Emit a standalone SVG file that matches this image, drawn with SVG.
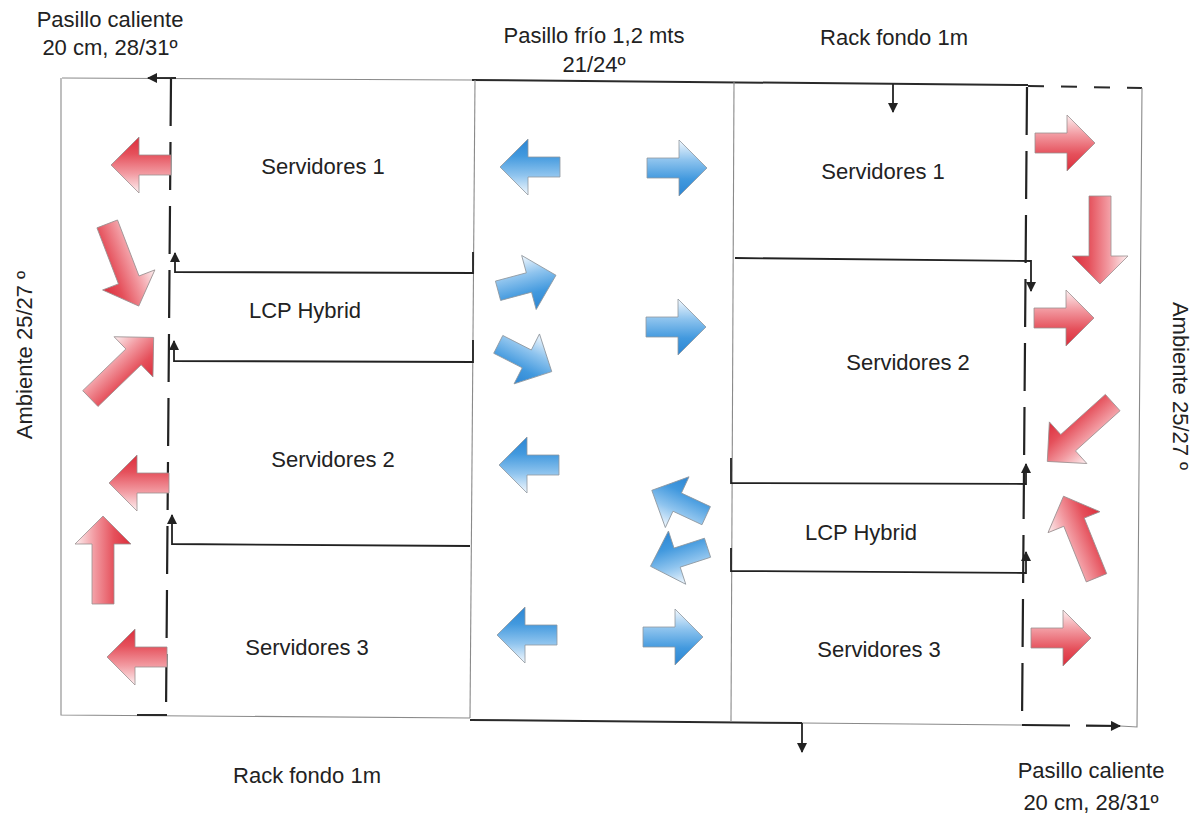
<svg xmlns="http://www.w3.org/2000/svg" width="1203" height="816" viewBox="0 0 1203 816">
<style>
text{font-family:"Liberation Sans",Arial,sans-serif;font-size:22px;fill:#222;text-anchor:middle}
.frame{stroke:#8a8a8a;stroke-width:1.1;fill:none}
.heavy{stroke:#2a2a2a;stroke-width:2;fill:none}
.dash{stroke:#222;stroke-width:2.2;fill:none;stroke-dasharray:48 16}
.conn{stroke:#222;stroke-width:1.8;fill:none}
.red{fill:url(#gRed);stroke:#9a8f90;stroke-width:0.8}
.blue{fill:url(#gBlue);stroke:#8f979e;stroke-width:0.8}
</style>
<defs>
<marker id="ah" viewBox="0 0 10 10" refX="9" refY="5" markerWidth="11" markerHeight="10" markerUnits="userSpaceOnUse" orient="auto">
<path d="M0,0 L10,5 L0,10 Z" fill="#222"/>
</marker>
<linearGradient id="gRed" x1="0" y1="0" x2="0" y2="1">
<stop offset="0" stop-color="#fdf0f1"/>
<stop offset="0.35" stop-color="#f29aa1"/>
<stop offset="0.7" stop-color="#e5505b"/>
<stop offset="1" stop-color="#dc2f3d"/>
</linearGradient>
<linearGradient id="gBlue" x1="0" y1="0" x2="0" y2="1">
<stop offset="0" stop-color="#f4f9fe"/>
<stop offset="0.35" stop-color="#8fc4ee"/>
<stop offset="0.7" stop-color="#4299de"/>
<stop offset="1" stop-color="#2d86d3"/>
</linearGradient>
<path id="aS" d="M-30,-10 H2 V-28 L30,0 L2,28 V10 H-30 Z"/>
<path id="aL" d="M-44,-11 H16 V-28 L44,0 L16,28 V11 H-44 Z"/>
</defs>
<rect width="1203" height="816" fill="#ffffff"/>

<g id="frame">
<path class="frame" d="M62,78 L472,80"/>
<path class="heavy" d="M472,80 L1028,85"/>
<path class="heavy" d="M1028,86 L1142,88" stroke-dasharray="16 17"/>
<path class="frame" d="M61,78 L61,715 L470,718"/>
<path class="heavy" d="M470,720 L802,723"/>
<path class="frame" d="M802,723 L1022,725"/>
<path class="frame" d="M1142,88 L1137,727 L1120,726"/>
</g>

<g id="cold-aisle">
<path class="frame" d="M475,80 L470,718"/>
<path class="frame" d="M734,82 L731,722"/>
<text x="594" y="43">Pasillo frío 1,2 mts</text>
<text x="594" y="72">21/24º</text>
</g>

<g id="hot-aisle-left">
<path class="dash" d="M171,78 L166,715"/>
<path class="heavy" d="M171,78 H176"/>
<path class="heavy" stroke-width="2.8" d="M137,715 H167"/>
<text x="110" y="27">Pasillo caliente</text>
<text x="110" y="55">20 cm, 28/31º</text>
</g>

<g id="hot-aisle-right">
<path class="dash" d="M1027,87 L1022,725"/>
<text x="1091" y="778">Pasillo caliente</text>
<text x="1091" y="810">20 cm, 28/31º</text>
</g>

<g id="rack-left">
<text x="323" y="174">Servidores 1</text>
<text x="305" y="318">LCP Hybrid</text>
<text x="333" y="467">Servidores 2</text>
<text x="307" y="655">Servidores 3</text>
</g>

<g id="rack-right">
<text x="883" y="179">Servidores 1</text>
<text x="908" y="370">Servidores 2</text>
<text x="861" y="540">LCP Hybrid</text>
<text x="879" y="657">Servidores 3</text>
</g>

<g id="labels">
<text x="894" y="45">Rack fondo 1m</text>
<text x="307" y="783">Rack fondo 1m</text>
<text transform="translate(32,355) rotate(-90)">Ambiente 25/27 º</text>
<text transform="translate(1173,386) rotate(90)">Ambiente 25/27 º</text>
</g>

<g id="connectors">
<path class="conn" d="M171,78 H148" marker-end="url(#ah)"/>
<path class="conn" d="M893,84 V112" marker-end="url(#ah)"/>
<path class="conn" d="M802,723 V752" marker-end="url(#ah)"/>
<path class="dash" d="M1022,725 L1120,726" stroke-dasharray="22 16" marker-end="url(#ah)"/>
<path class="conn" d="M473,252 V273 L175,272 V253" marker-end="url(#ah)"/>
<path class="conn" d="M473,340 V362 L174,361 V341" marker-end="url(#ah)"/>
<path class="conn" d="M470,546 L172,544 V515" marker-end="url(#ah)"/>
<path class="conn" d="M735,258 L1031,261 V291" marker-end="url(#ah)"/>
<path class="conn" d="M731,458 V483 L1026,484 V464" marker-end="url(#ah)"/>
<path class="conn" d="M731,548 V571 L1026,573 V552" marker-end="url(#ah)"/>
</g>

<g id="hot-airflow">
<use href="#aS" class="red" transform="translate(141,165) rotate(180)"/>
<use href="#aL" class="red" transform="translate(123,265) rotate(69)"/>
<use href="#aL" class="red" transform="translate(122,368) rotate(-44)"/>
<use href="#aS" class="red" transform="translate(139,483) rotate(180)"/>
<use href="#aL" class="red" transform="translate(103,560) rotate(-90)"/>
<use href="#aS" class="red" transform="translate(137,657) rotate(180)"/>
<use href="#aS" class="red" transform="translate(1065,143)"/>
<use href="#aL" class="red" transform="translate(1100,240) rotate(90)"/>
<use href="#aS" class="red" transform="translate(1064,318)"/>
<use href="#aL" class="red" transform="translate(1080,432) rotate(138)"/>
<use href="#aL" class="red" transform="translate(1080,537) rotate(-112)"/>
<use href="#aS" class="red" transform="translate(1061,638)"/>
</g>

<g id="cold-airflow">
<use href="#aS" class="blue" transform="translate(530,167) rotate(180)"/>
<use href="#aS" class="blue" transform="translate(677,168)"/>
<use href="#aS" class="blue" transform="translate(527,283) rotate(-15)"/>
<use href="#aS" class="blue" transform="translate(525,358) rotate(27)"/>
<use href="#aS" class="blue" transform="translate(676,327)"/>
<use href="#aS" class="blue" transform="translate(529,465) rotate(180)"/>
<use href="#aS" class="blue" transform="translate(679,503) rotate(205)"/>
<use href="#aS" class="blue" transform="translate(679,557) rotate(162)"/>
<use href="#aS" class="blue" transform="translate(527,635) rotate(180)"/>
<use href="#aS" class="blue" transform="translate(673,637)"/>
</g>
</svg>
